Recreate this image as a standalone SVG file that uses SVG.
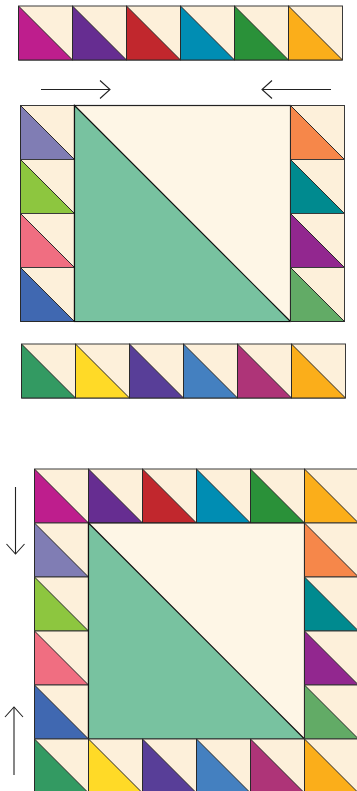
<svg xmlns="http://www.w3.org/2000/svg" width="357" height="791" viewBox="0 0 357 791">
<style>
.c{fill:#FDF0DA;stroke:#3a3a3a;stroke-width:1}
.t{stroke:#2a2a2a;stroke-width:1;stroke-linejoin:miter}
.bc{fill:#FEF6E6;stroke:#222;stroke-width:1.2}
.bt{fill:#78C2A0;stroke:#111;stroke-width:1.2}
.ar{stroke:#222;stroke-width:1.1;fill:none}
</style>
<defs>
<marker id="ah" markerUnits="userSpaceOnUse" markerWidth="14" markerHeight="22" refX="11" refY="10" orient="auto">
<path d="M1,1 L11,10 L1,19" fill="none" stroke="#222" stroke-width="1.1"/>
</marker>
<g id="hst"><rect class="c" width="54" height="54"/></g>
</defs>
<rect width="357" height="791" fill="#fff"/>

<!-- Top strip -->
<g id="top-strip">
<g id="a1" transform="translate(18.5,6)"><use href="#hst"/><polygon class="t" points="0,0 54,54 0,54" fill="#BE1E8D"/></g>
<g id="a2" transform="translate(72.5,6)"><use href="#hst"/><polygon class="t" points="0,0 54,54 0,54" fill="#662D91"/></g>
<g id="a3" transform="translate(126.5,6)"><use href="#hst"/><polygon class="t" points="0,0 54,54 0,54" fill="#C1272D"/></g>
<g id="a4" transform="translate(180.5,6)"><use href="#hst"/><polygon class="t" points="0,0 54,54 0,54" fill="#008DB3"/></g>
<g id="a5" transform="translate(234.5,6)"><use href="#hst"/><polygon class="t" points="0,0 54,54 0,54" fill="#2A9139"/></g>
<g id="a6" transform="translate(288.5,6)"><use href="#hst"/><polygon class="t" points="0,0 54,54 0,54" fill="#FBAE1A"/></g>
</g>

<!-- Middle section -->
<g id="mid-left">
<g id="b1" transform="translate(20.5,105.5)"><use href="#hst"/><polygon class="t" points="0,0 54,54 0,54" fill="#807DB4"/></g>
<g id="b2" transform="translate(20.5,159.5)"><use href="#hst"/><polygon class="t" points="0,0 54,54 0,54" fill="#8DC63F"/></g>
<g id="b3" transform="translate(20.5,213.5)"><use href="#hst"/><polygon class="t" points="0,0 54,54 0,54" fill="#F06E81"/></g>
<g id="b4" transform="translate(20.5,267.5)"><use href="#hst"/><polygon class="t" points="0,0 54,54 0,54" fill="#4068B1"/></g>
</g>
<g id="mid-center" transform="translate(74.5,105.5)">
<rect class="bc" width="216" height="216"/><polygon class="bt" points="0,0 216,216 0,216"/>
</g>
<g id="mid-right">
<g id="c1" transform="translate(290.5,105.5)"><use href="#hst"/><polygon class="t" points="0,0 54,54 0,54" fill="#F6874A"/></g>
<g id="c2" transform="translate(290.5,159.5)"><use href="#hst"/><polygon class="t" points="0,0 54,54 0,54" fill="#008A8F"/></g>
<g id="c3" transform="translate(290.5,213.5)"><use href="#hst"/><polygon class="t" points="0,0 54,54 0,54" fill="#92278F"/></g>
<g id="c4" transform="translate(290.5,267.5)"><use href="#hst"/><polygon class="t" points="0,0 54,54 0,54" fill="#62AB66"/></g>
</g>

<!-- Bottom strip -->
<g id="bottom-strip">
<g id="d1" transform="translate(21.5,344)"><use href="#hst"/><polygon class="t" points="0,0 54,54 0,54" fill="#339A62"/></g>
<g id="d2" transform="translate(75.5,344)"><use href="#hst"/><polygon class="t" points="0,0 54,54 0,54" fill="#FFDA27"/></g>
<g id="d3" transform="translate(129.5,344)"><use href="#hst"/><polygon class="t" points="0,0 54,54 0,54" fill="#583E98"/></g>
<g id="d4" transform="translate(183.5,344)"><use href="#hst"/><polygon class="t" points="0,0 54,54 0,54" fill="#4480C0"/></g>
<g id="d5" transform="translate(237.5,344)"><use href="#hst"/><polygon class="t" points="0,0 54,54 0,54" fill="#AE3478"/></g>
<g id="d6" transform="translate(291.5,344)"><use href="#hst"/><polygon class="t" points="0,0 54,54 0,54" fill="#FBAE1A"/></g>
</g>

<!-- Assembled quilt -->
<g id="q-top">
<g id="e1" transform="translate(34.5,469)"><use href="#hst"/><polygon class="t" points="0,0 54,54 0,54" fill="#BE1E8D"/></g>
<g id="e2" transform="translate(88.5,469)"><use href="#hst"/><polygon class="t" points="0,0 54,54 0,54" fill="#662D91"/></g>
<g id="e3" transform="translate(142.5,469)"><use href="#hst"/><polygon class="t" points="0,0 54,54 0,54" fill="#C1272D"/></g>
<g id="e4" transform="translate(196.5,469)"><use href="#hst"/><polygon class="t" points="0,0 54,54 0,54" fill="#008DB3"/></g>
<g id="e5" transform="translate(250.5,469)"><use href="#hst"/><polygon class="t" points="0,0 54,54 0,54" fill="#2A9139"/></g>
<g id="e6" transform="translate(304.5,469)"><use href="#hst"/><polygon class="t" points="0,0 54,54 0,54" fill="#FBAE1A"/></g>
</g>
<g id="q-left">
<g id="f1" transform="translate(34.5,523)"><use href="#hst"/><polygon class="t" points="0,0 54,54 0,54" fill="#807DB4"/></g>
<g id="f2" transform="translate(34.5,577)"><use href="#hst"/><polygon class="t" points="0,0 54,54 0,54" fill="#8DC63F"/></g>
<g id="f3" transform="translate(34.5,631)"><use href="#hst"/><polygon class="t" points="0,0 54,54 0,54" fill="#F06E81"/></g>
<g id="f4" transform="translate(34.5,685)"><use href="#hst"/><polygon class="t" points="0,0 54,54 0,54" fill="#4068B1"/></g>
</g>
<g id="q-center" transform="translate(88.5,523)">
<rect class="bc" width="216" height="216"/><polygon class="bt" points="0,0 216,216 0,216"/>
</g>
<g id="q-right">
<g id="g1" transform="translate(304.5,523)"><use href="#hst"/><polygon class="t" points="0,0 54,54 0,54" fill="#F6874A"/></g>
<g id="g2" transform="translate(304.5,577)"><use href="#hst"/><polygon class="t" points="0,0 54,54 0,54" fill="#008A8F"/></g>
<g id="g3" transform="translate(304.5,631)"><use href="#hst"/><polygon class="t" points="0,0 54,54 0,54" fill="#92278F"/></g>
<g id="g4" transform="translate(304.5,685)"><use href="#hst"/><polygon class="t" points="0,0 54,54 0,54" fill="#62AB66"/></g>
</g>
<g id="q-bottom">
<g id="h1" transform="translate(34.5,739)"><use href="#hst"/><polygon class="t" points="0,0 54,54 0,54" fill="#339A62"/></g>
<g id="h2" transform="translate(88.5,739)"><use href="#hst"/><polygon class="t" points="0,0 54,54 0,54" fill="#FFDA27"/></g>
<g id="h3" transform="translate(142.5,739)"><use href="#hst"/><polygon class="t" points="0,0 54,54 0,54" fill="#583E98"/></g>
<g id="h4" transform="translate(196.5,739)"><use href="#hst"/><polygon class="t" points="0,0 54,54 0,54" fill="#4480C0"/></g>
<g id="h5" transform="translate(250.5,739)"><use href="#hst"/><polygon class="t" points="0,0 54,54 0,54" fill="#AE3478"/></g>
<g id="h6" transform="translate(304.5,739)"><use href="#hst"/><polygon class="t" points="0,0 54,54 0,54" fill="#FBAE1A"/></g>
</g>

<g id="connectors">
<line class="ar" x1="41" y1="89.5" x2="110" y2="89.5" marker-end="url(#ah)"/>
<line class="ar" x1="331" y1="89.5" x2="262" y2="89.5" marker-end="url(#ah)"/>
<line class="ar" x1="15.5" y1="487" x2="15.5" y2="554" marker-end="url(#ah)"/>
<line class="ar" x1="14" y1="775" x2="14" y2="707" marker-end="url(#ah)"/>
</g>
</svg>
